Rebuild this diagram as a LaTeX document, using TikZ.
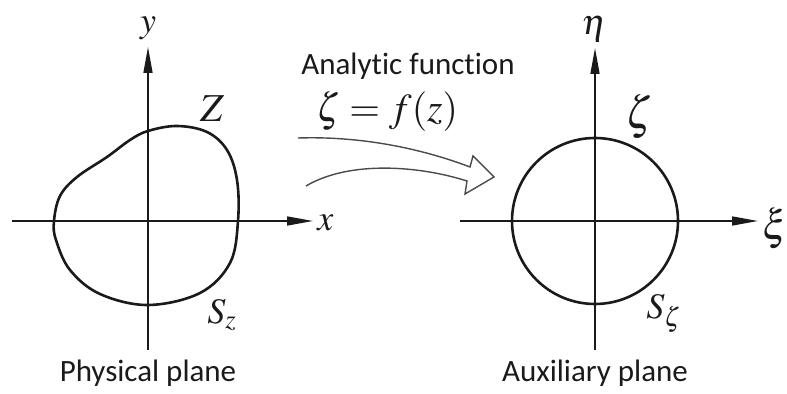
\documentclass[tikz,border=0pt]{standalone}
\usepackage{mathptmx}
\usepackage[no-math]{fontspec}
\setmainfont{Liberation Serif}
\setsansfont{Carlito}[Ligatures=NoCommon]
\usetikzlibrary{arrows.meta,positioning}
\definecolor{Ink}{HTML}{1A1A1A}
\definecolor{Pencil}{HTML}{4A4A4A}
\begin{document}
\begin{tikzpicture}[
  x=0.5pt,y=-0.5pt,
  every node/.style={inner sep=0pt,text=Ink},
  axis/.style={line width=0.75pt,color=Ink,-{Triangle[length=13pt,width=4.5pt]}},
  contour/.style={line width=1.3pt,color=Ink},
  mlabel/.style={font=\fontsize{18}{20}\selectfont},
  caption/.style={font=\sffamily\fontsize{15.5}{18}\selectfont},
  hollow/.style={line width=0.7pt,color=Pencil,line join=miter}
]
\useasboundingbox (0,0) rectangle (787,394);
% physical plane
\coordinate (zo) at (148,221);
\coordinate (xs) at (12,221);
\coordinate (xe) at (313,221);
\coordinate (ys) at (148,350);
\coordinate (ye) at (148,47);
\draw[axis] (xs) -- (xe);
\draw[axis] (ys) -- (ye);
\draw[contour] plot[smooth cycle,tension=0.6] coordinates {
  (148,131) (177,126) (207,132) (227,150) (237,180) (238,221) (230,263)
  (200,293) (148,305) (100,294) (70,270) (56,240) (54,221) (60,196)
  (77,177) (107,157) (130,140)};
\node[mlabel] (ylab) at (148,28) {$y$};
\node[mlabel,anchor=west] (xlab) at (317,223) {$x$};
\node[mlabel,scale=1.1] (zlab) at (212,109) {$Z$};
\node[mlabel] (szlab) at (222,315) {$S_z$};
\node[caption] (phys) at (148,373) {Physical plane};
% auxiliary plane
\coordinate (wo) at (595,221);
\coordinate (xis) at (460,221);
\coordinate (xie) at (758,221);
\coordinate (etas) at (595,350);
\coordinate (etae) at (595,48);
\draw[axis] (xis) -- (xie);
\draw[axis] (etas) -- (etae);
\draw[contour] (wo) circle[radius=83];
\node[mlabel] (etalab) at (594,29) {$\eta$};
\node[mlabel,scale=1.15,anchor=west] (xilab) at (762,228) {$\xi$};
\node[mlabel,scale=1.25] (zetalab) at (639,116) {$\zeta$};
\node[mlabel] (szetalab) at (664,313) {$S_\zeta$};
\node[caption] (aux) at (595,373) {Auxiliary plane};
% mapping
\node[caption] (func) at (408,66) {Analytic function};
\node[mlabel,scale=1.1] (map) at (387,111) {$\zeta = f(z)$};
\coordinate (tu) at (298,138);
\coordinate (hu) at (470,167);
\coordinate (cu) at (473,156);
\coordinate (tip) at (494,177);
\coordinate (cl) at (465,194);
\coordinate (hl) at (467,181);
\coordinate (tl) at (306,186);
\draw[hollow] (tu) .. controls (360,136) and (420,148) .. (hu)
  -- (cu) -- (tip) -- (cl) -- (hl)
  .. controls (420,166) and (350,160) .. (tl);
\end{tikzpicture}
\end{document}
